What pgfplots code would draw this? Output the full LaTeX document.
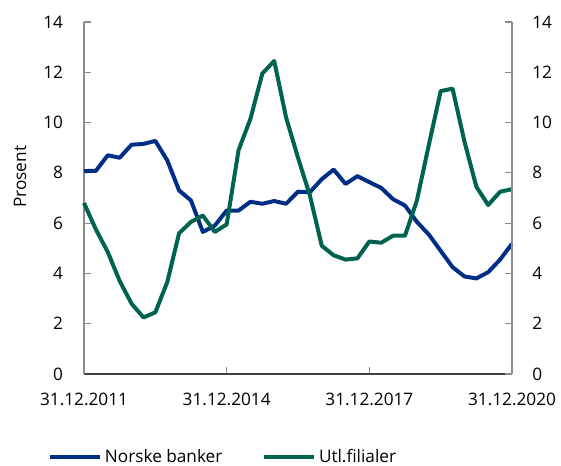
\documentclass[border=0pt]{standalone}
\usepackage{fontspec}
\setmainfont{Open Sans}
\usepackage{pgfplots}
\pgfplotsset{compat=1.18}
\usepackage{pgfplotstable}
\definecolor{nbblue}{RGB}{0,46,135}
\definecolor{nbgreen}{RGB}{0,99,79}
\definecolor{axgray}{RGB}{140,140,140}
\pgfplotstableread{
i norske utl
0 8.07 6.80
1 8.08 5.75
2 8.70 4.85
3 8.60 3.70
4 9.12 2.80
5 9.15 2.25
6 9.27 2.45
7 8.50 3.65
8 7.30 5.60
9 6.90 6.05
10 5.65 6.30
11 5.90 5.65
12 6.50 5.95
13 6.50 8.90
14 6.85 10.15
15 6.77 11.95
16 6.88 12.45
17 6.77 10.20
18 7.25 8.60
19 7.23 7.10
20 7.75 5.10
21 8.13 4.72
22 7.56 4.55
23 7.87 4.60
24 7.63 5.27
25 7.40 5.22
26 6.95 5.50
27 6.70 5.50
28 6.05 6.90
29 5.55 9.10
30 4.90 11.25
31 4.25 11.35
32 3.88 9.25
33 3.80 7.45
34 4.05 6.72
35 4.55 7.25
36 5.18 7.35
}\data
\begin{document}
\fontsize{12.9pt}{15.5pt}\selectfont
\begin{tikzpicture}
\begin{axis}[
  at={(0pt,0pt)}, anchor=south west,
  width=321pt, height=264pt, scale only axis,
  xmin=0, xmax=36, ymin=0, ymax=14,
  axis x line*=bottom, axis y line*=left,
  x axis line style={black!75, line width=0.8pt, -},
  y axis line style={axgray, line width=0.8pt, -},
  tick align=inside,
  major tick length=5pt,
  every tick/.style={axgray, line width=0.8pt},
  xtick={0,12,24,36},
  xticklabels={31.12.2011,31.12.2014,31.12.2017,31.12.2020},
  ytick={0,2,...,14},
  /pgf/number format/assume math mode=true,
  x tick label style={anchor=north, inner sep=0pt, yshift=-14pt},
  y tick label style={anchor=east, inner sep=0pt, xshift=-15.5pt},
  ylabel={Prosent},
  every axis y label/.style={at={(axis description cs:-0.1495,0.56)}, rotate=90, anchor=center},
  legend style={draw=none, fill=none, at={(axis description cs:-0.084,-0.236)}, anchor=west,
    inner sep=0pt, /tikz/every even column/.append style={column sep=28pt}},
  legend columns=2,
  legend image code/.code={\draw[#1, line width=3pt] (0pt,0pt) -- (37.5pt,0pt);},
  clip=false,
]
\addplot[nbblue, line width=3pt, line join=round] table[x=i, y=norske] {\data};
\addlegendentry{Norske banker}
\addplot[nbgreen, line width=3pt, line join=round] table[x=i, y=utl] {\data};
\addlegendentry{Utl.filialer}
\end{axis}
\begin{axis}[
  at={(0pt,0pt)}, anchor=south west,
  width=321pt, height=264pt, scale only axis,
  xmin=0, xmax=36, ymin=0, ymax=14,
  axis x line=none, axis y line*=right,
  y axis line style={axgray, line width=0.8pt, -},
  tick align=inside,
  major tick length=5pt,
  every tick/.style={axgray, line width=0.8pt},
  ytick={0,2,...,14},
  /pgf/number format/assume math mode=true,
  y tick label style={anchor=west, inner sep=0pt, xshift=15pt},
]
\end{axis}
\pgfresetboundingbox
\useasboundingbox (-63pt,-69pt) rectangle (357.75pt,280.5pt);
\end{tikzpicture}
\end{document}
